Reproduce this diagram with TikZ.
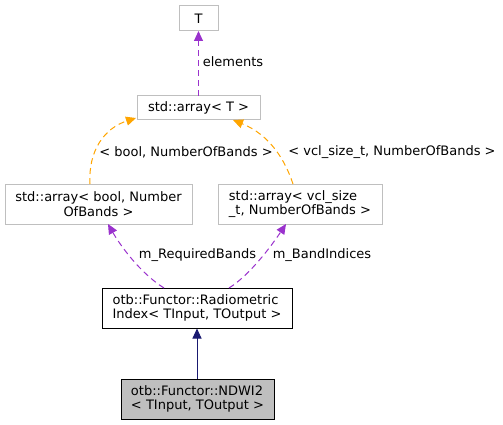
\documentclass[tikz,border=0pt]{standalone}
\usepackage{fontspec}
\setmainfont{DejaVu Sans}
\usetikzlibrary{arrows.meta}
\definecolor{edgepurple}{HTML}{9A32CD}
\definecolor{edgeorange}{HTML}{FFA500}
\definecolor{edgenavy}{HTML}{191970}
\definecolor{boxgray}{HTML}{BFBFBF}
\begin{document}
\begin{tikzpicture}[x=1pt,y=-1pt,
  every node/.style={font=\fontsize{13}{14.5}\selectfont, inner sep=0pt},
  lbox/.style={draw=boxgray, fill=white, line width=1pt, align=center},
  dbox/.style={draw=black, fill=white, line width=1pt, align=left},
  hbox/.style={draw=black, fill=boxgray, line width=1pt, align=left},
  purpleedge/.style={draw=edgepurple, dash pattern=on 6pt off 4pt, line width=1pt, -{Triangle[length=10pt,width=9pt]}},
  orangeedge/.style={draw=edgeorange, dash pattern=on 6pt off 4pt, line width=1pt, -{Triangle[length=10pt,width=9pt]}},
  navyedge/.style={draw=edgenavy, line width=1pt, -{Triangle[length=10pt,width=9pt]}},
  lab/.style={anchor=center}]
\useasboundingbox (0,0) rectangle (503,425);
\node[lbox, minimum width=39pt, minimum height=25pt] (T) at (198.5,18.5) {T};
\node[lbox, minimum width=123pt, minimum height=24pt] (arr) at (198.5,108) {std::array< T >};
\node[lbox, minimum width=187pt, minimum height=40pt] (bool) at (98.5,204) {std::array< bool, Number\\OfBands >};
\node[lbox, minimum width=164pt, minimum height=40pt, align=left] (vcl) at (300,204) {std::array< vcl\_size\\\_t, NumberOfBands >};
\node[dbox, minimum width=190pt, minimum height=40pt] (rad) at (197,308) {otb::Functor::Radiometric\\Index< TInput, TOutput >};
\node[hbox, minimum width=153pt, minimum height=40pt] (ndwi) at (197.5,399) {otb::Functor::NDWI2\\< TInput, TOutput >};

\coordinate (tb) at (198.5,31);
\coordinate (at) at (198.5,96);
\draw[purpleedge] (at) -- (tb);
\node[lab] (le) at (233,62) {elements};

\coordinate (bt) at (90,184);
\coordinate (ab) at (136,118);
\draw[orangeedge] (bt) .. controls (88,150) and (105,128) .. (ab);
\node[lab] (lb) at (186,152) {< bool, NumberOfBands >};

\coordinate (vt) at (293,184);
\coordinate (ab2) at (233,120);
\draw[orangeedge] (vt) .. controls (285,160) and (270,135) .. (ab2);
\node[lab] (lv) at (392,152) {< vcl\_size\_t, NumberOfBands >};

\coordinate (rt1) at (164,288);
\coordinate (bb) at (108,224);
\draw[purpleedge] (rt1) .. controls (140,273) and (120,245) .. (bb);
\node[lab] (lr) at (197.5,255) {m\_RequiredBands};

\coordinate (rt2) at (229,288);
\coordinate (vb) at (286,224);
\draw[purpleedge] (rt2) .. controls (250,275) and (272,245) .. (vb);
\node[lab] (li) at (322,255) {m\_BandIndices};

\draw[navyedge] (ndwi.north -| rad.south) -- (rad.south);
\end{tikzpicture}
\end{document}
